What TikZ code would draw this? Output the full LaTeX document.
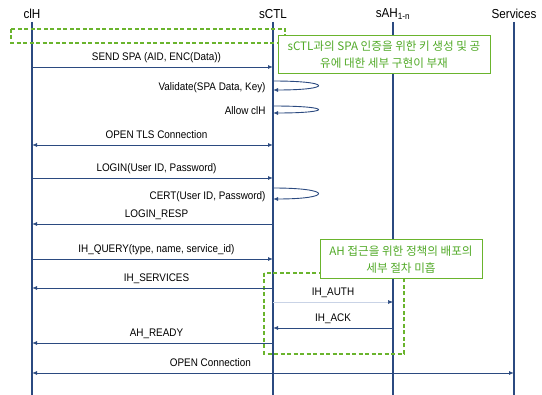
\documentclass[tikz,border=0pt]{standalone}
\usepackage{fontspec}
\setmainfont{Liberation Sans}[FakeStretch=0.9]
\newfontfamily\krfont{Noto Sans CJK KR}
\usetikzlibrary{arrows.meta, positioning, calc}
\definecolor{cnavy}{HTML}{2B4A80}
\definecolor{cpale}{HTML}{C9D3E6}
\definecolor{cgreen}{HTML}{6AB42D}
\definecolor{cgtext}{HTML}{52AA28}
\tikzset{
  every picture/.style={font=\fontsize{11}{13}\selectfont, line width=0.9pt},
  head/.style={font=\fontsize{13}{15}\selectfont, inner sep=1pt},
  life/.style={draw=cnavy, line width=1.1pt},
  msg/.style={draw=cnavy, -{Latex[length=5pt,width=4pt]}},
  both/.style={draw=cnavy, {Latex[length=5pt,width=4pt]}-{Latex[length=5pt,width=4pt]}},
  mlabel/.style={anchor=base, yshift=6pt, inner sep=0pt},
  slabel/.style={anchor=east, inner sep=0pt},
  zone/.style={draw=cgreen, line width=1.3pt, dash pattern=on 4pt off 2.5pt},
  hint/.style={draw=cgreen, fill=white, line width=1pt, text=cgtext, align=center, inner sep=2pt, font=\krfont\fontsize{11.6}{17}\selectfont},
}

\begin{document}
\begin{tikzpicture}[x=1pt, y=-1pt]
  \useasboundingbox (0,0) rectangle (542,395);
  % lifeline heads
  \node[head] (clH) at (32,14) {clH};
  \node[head] (sCTL) at (273,14) {sCTL};
  \node[head] (sAH) at (393,14) {sAH\textsubscript{1-n}};
  \node[head] (srv) at (514,14) {Services};
  % lifelines
  \foreach \p in {clH, sCTL, sAH, srv} {
    \coordinate (\p-top) at (\p |- 0,22);
    \coordinate (\p-end) at (\p |- 0,395);
    \draw[life] (\p-top) -- (\p-end);
  }
  % dashed zones
  \draw[zone] (11,29) rectangle (285,43);
  \draw[zone] (264,273) rectangle (404,354);
  % messages clH <-> sCTL
  \foreach \n/\y/\a/\b/\s/\t in {
      spa/67/clH/sCTL/msg/{SEND SPA (AID, ENC(Data))},
      tls/145/clH/sCTL/both/{OPEN TLS Connection},
      login/178/clH/sCTL/msg/{LOGIN(User ID, Password)},
      resp/224/sCTL/clH/msg/{LOGIN\_RESP},
      query/259/clH/sCTL/msg/{IH\_QUERY(type, name, service\_id)},
      svc/288/sCTL/clH/msg/{IH\_SERVICES},
      ready/343/sCTL/clH/msg/{AH\_READY}} {
    \coordinate (\n-a) at (\a |- 0,\y);
    \coordinate (\n-b) at (\b |- 0,\y);
    \draw[\s] (\n-a) -- node[mlabel, xshift=4pt] {\t} (\n-b);
  }
  % messages sCTL <-> sAH
  \coordinate (auth-a) at (sCTL |- 0,302);
  \coordinate (auth-b) at (sAH |- 0,302);
  \draw[msg, draw=cpale, line width=0.6pt, -{Latex[length=5pt,width=4pt, color=cnavy]}] (auth-a) -- node[mlabel, text=black] {IH\_AUTH} (auth-b);
  \coordinate (ack-a) at (sAH |- 0,328);
  \coordinate (ack-b) at (sCTL |- 0,328);
  \draw[msg] (ack-a) -- node[mlabel] {IH\_ACK} (ack-b);
  % open connection
  \coordinate (open-a) at (clH |- 0,373);
  \coordinate (open-b) at (srv |- 0,373);
  \draw[both] (open-a) -- node[mlabel, pos=0.37] {OPEN Connection} (open-b);
  % self calls on sCTL
  \foreach \n/\u/\v/\t in {val/81/90/{Validate(SPA Data, Key)},
      allow/106/113/{Allow clH},
      cert/188/199/{CERT(User ID, Password)}} {
    \coordinate (\n-a) at (sCTL |- 0,\u);
    \coordinate (\n-b) at (sCTL |- 0,\v);
    \draw[msg] (\n-a) .. controls +(60,0) and +(60,0) .. (\n-b);
    \node[slabel] at ($(\n-b)+(-7,-2)$) {\t};
  }
  % remarks
  \node[hint, minimum width=212pt, minimum height=38pt] (gap1) at (384,55)
    {sCTL과의 SPA 인증을 위한 키 생성 및 공\\유에 대한 세부 구현이 부재};
  \node[hint, minimum width=162pt, minimum height=39pt] (gap2) at (401,259.5)
    {AH 접근을 위한 정책의 배포의\\세부 절차 미흡};
\end{tikzpicture}
\end{document}
